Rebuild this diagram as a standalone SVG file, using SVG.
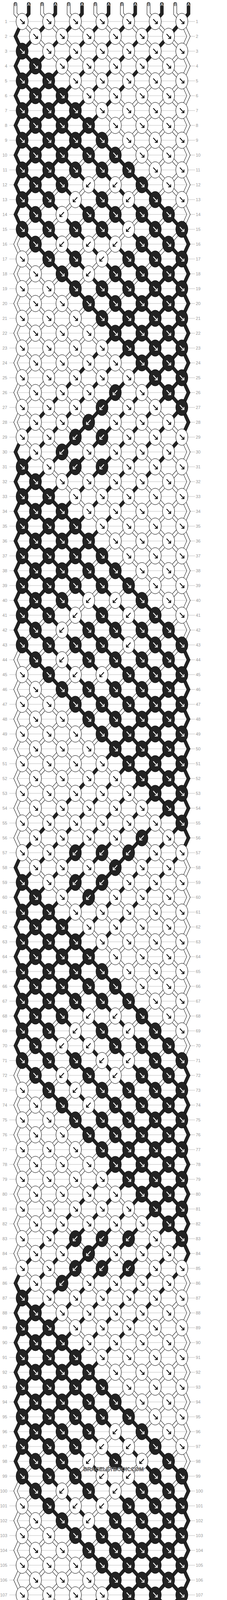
<svg xmlns="http://www.w3.org/2000/svg" width="582" height="7520" viewBox="0 0 582 7520">
<style>
.sd{stroke:#222;stroke-width:9}
.so{stroke:#000;stroke-width:9}
.si{stroke:#fff;stroke-width:7}
.td{fill:none;stroke:#222;stroke-width:9;stroke-linecap:round}
.to{fill:none;stroke:#000;stroke-width:9;stroke-linecap:round}
.ti{fill:none;stroke:#fff;stroke-width:7;stroke-linecap:round}
text{font-family:"Liberation Sans",Arial,sans-serif}
.l{font-size:11px;fill:#999;text-anchor:end}
.r{font-size:11px;fill:#999}
.sl{font-size:10.5px;text-anchor:middle}
.wm{font-size:14px;font-weight:bold;text-anchor:middle;fill:#aaa;stroke:#333;stroke-width:0.6}
</style>
<defs>
<g id="W"><ellipse rx="15.5" ry="21" fill="#fff" stroke="#000"/><path d="M-5-6 5 5M-1 5.5H5.5V-1" stroke="#000" stroke-width="2" fill="none"/></g>
<g id="D"><ellipse rx="15.5" ry="21" fill="#222" stroke="#000"/><path d="M-5-6 5 5M-1 5.5H5.5V-1" stroke="#fff" stroke-width="2" fill="none"/></g>
<g id="w"><ellipse rx="15.5" ry="21" fill="#fff" stroke="#000"/><path d="M5-6-5 5M1 5.5H-5.5V-1" stroke="#000" stroke-width="2" fill="none"/></g>
<g id="d"><ellipse rx="15.5" ry="21" fill="#222" stroke="#000"/><path d="M5-6-5 5M1 5.5H-5.5V-1" stroke="#fff" stroke-width="2" fill="none"/></g>
<path id="z" fill="none" d="M56.7,-2128l409.5,456 17.1,38 -17.1,38 -409.5,456 -17.1,38 17.1,38l409.5,456 17.1,38 -17.1,38 -409.5,456 -17.1,38 17.1,38l409.5,456 17.1,38 -17.1,38 -409.5,456 -17.1,38 17.1,38l409.5,456 17.1,38 -17.1,38 -409.5,456 -17.1,38 17.1,38l409.5,456 17.1,38 -17.1,38 -409.5,456 -17.1,38 17.1,38l409.5,456 17.1,38 -17.1,38 -409.5,456 -17.1,38 17.1,38l409.5,456 17.1,38 -17.1,38 -409.5,456 -17.1,38 17.1,38l409.5,456 17.1,38 -17.1,38 -409.5,456 -17.1,38 17.1,38l409.5,456 17.1,38 -17.1,38 -409.5,456 -17.1,38 17.1,38l409.5,456 17.1,38 -17.1,38 -409.5,456 -17.1,38 17.1,38"/>
<clipPath id="c"><rect x="0" y="55" width="582" height="7410"/></clipPath>
</defs>
<rect width="582" height="7520" fill="#fff"/>
<path id="rowlines" fill="none" stroke="#bbb" stroke-width="1" d="M24 55h476m-476 38h476m-476 38h476m-476 38h476m-476 38h476m-476 38h476m-476 38h476m-476 38h476m-476 38h476m-476 38h476m-476 38h476m-476 38h476m-476 38h476m-476 38h476m-476 38h476m-476 38h476m-476 38h476m-476 38h476m-476 38h476m-476 38h476m-476 38h476m-476 38h476m-476 38h476m-476 38h476m-476 38h476m-476 38h476m-476 38h476m-476 38h476m-476 38h476m-476 38h476m-476 38h476m-476 38h476m-476 38h476m-476 38h476m-476 38h476m-476 38h476m-476 38h476m-476 38h476m-476 38h476m-476 38h476m-476 38h476m-476 38h476m-476 38h476m-476 38h476m-476 38h476m-476 38h476m-476 38h476m-476 38h476m-476 38h476m-476 38h476m-476 38h476m-476 38h476m-476 38h476m-476 38h476m-476 38h476m-476 38h476m-476 38h476m-476 38h476m-476 38h476m-476 38h476m-476 38h476m-476 38h476m-476 38h476m-476 38h476m-476 38h476m-476 38h476m-476 38h476m-476 38h476m-476 38h476m-476 38h476m-476 38h476m-476 38h476m-476 38h476m-476 38h476m-476 38h476m-476 38h476m-476 38h476m-476 38h476m-476 38h476m-476 38h476m-476 38h476m-476 38h476m-476 38h476m-476 38h476m-476 38h476m-476 38h476m-476 38h476m-476 38h476m-476 38h476m-476 38h476m-476 38h476m-476 38h476m-476 38h476m-476 38h476m-476 38h476m-476 38h476m-476 38h476m-476 38h476m-476 38h476m-476 38h476m-476 38h476m-476 38h476m-476 38h476m-476 38h476m-476 38h476m-476 38h476m-476 38h476m-476 38h476m-476 38h476m-476 38h476m-476 38h476m-476 38h476m-476 38h476m-476 38h476m-476 38h476m-476 38h476m-476 38h476m-476 38h476m-476 38h476m-476 38h476m-476 38h476m-476 38h476m-476 38h476m-476 38h476m-476 38h476m-476 38h476m-476 38h476m-476 38h476m-476 38h476m-476 38h476m-476 38h476m-476 38h476m-476 38h476m-476 38h476m-476 38h476m-476 38h476m-476 38h476m-476 38h476m-476 38h476m-476 38h476m-476 38h476m-476 38h476m-476 38h476m-476 38h476m-476 38h476m-476 38h476m-476 38h476m-476 38h476m-476 38h476m-476 38h476m-476 38h476m-476 38h476m-476 38h476m-476 38h476m-476 38h476m-476 38h476m-476 38h476m-476 38h476m-476 38h476m-476 38h476m-476 38h476m-476 38h476m-476 38h476m-476 38h476m-476 38h476m-476 38h476m-476 38h476m-476 38h476m-476 38h476"/>
<g id="connectors">
<g id="strands" clip-path="url(#c)">
<use href="#z" class="sd" y="131"/><use href="#z" class="sd" y="207"/><use href="#z" class="sd" y="283"/><use href="#z" class="sd" y="359"/><use href="#z" class="sd" y="435"/><use href="#z" class="sd" y="511"/><use href="#z" class="sd" y="587"/>
<use href="#z" class="so" y="663"/><use href="#z" class="so" y="739"/><use href="#z" class="so" y="815"/><use href="#z" class="so" y="891"/><use href="#z" class="so" y="967"/><use href="#z" class="so" y="1043"/><use href="#z" class="so" y="1119"/>
<use href="#z" class="si" y="663"/><use href="#z" class="si" y="739"/><use href="#z" class="si" y="815"/><use href="#z" class="si" y="891"/><use href="#z" class="si" y="967"/><use href="#z" class="si" y="1043"/><use href="#z" class="si" y="1119"/>
</g>
<g id="tails">
<path class="td" d="M73.7,10V35L56.7,55M142,10V35L124.9,55M210.3,10V35L193.2,55M278.5,10V35L261.5,55M346.8,10V35L329.7,55M415,10V35L397.9,55M483.3,10V35L466.2,55"/>
<path class="to" d="M39.6,10V35L56.7,55M107.9,10V35L124.9,55M176.1,10V35L193.2,55M244.4,10V35L261.5,55M312.6,10V35L329.7,55M380.9,10V35L397.9,55M449.2,10V35L466.2,55"/>
<path class="ti" d="M39.6,10V35L56.7,55M107.9,10V35L124.9,55M176.1,10V35L193.2,55M244.4,10V35L261.5,55M312.6,10V35L329.7,55M380.9,10V35L397.9,55M449.2,10V35L466.2,55"/>
<path class="td" d="M90.8,7465L73.7,7484V7511M159,7465L142,7484V7511M227.3,7465L210.3,7484V7511M295.6,7465L278.5,7484V7511M363.8,7465L346.8,7484V7511M432.1,7465L415,7484V7511M466.2,7427L483.3,7465V7511"/>
<path class="to" d="M56.7,7427L39.6,7465V7511M90.8,7465L107.9,7484V7511M159,7465L176.1,7484V7511M227.3,7465L244.4,7484V7511M295.6,7465L312.6,7484V7511M363.8,7465L380.9,7484V7511M432.1,7465L449.2,7484V7511"/>
<path class="ti" d="M56.7,7427L39.6,7465V7511M90.8,7465L107.9,7484V7511M159,7465L176.1,7484V7511M227.3,7465L244.4,7484V7511M295.6,7465L312.6,7484V7511M363.8,7465L380.9,7484V7511M432.1,7465L449.2,7484V7511"/>
</g>
</g>
<g id="strandlabels" class="sl">
<text x="39.6" y="15">B</text><text x="73.7" y="15" fill="#fff">A</text><text x="107.9" y="15">B</text><text x="142" y="15" fill="#fff">A</text><text x="176.1" y="15">B</text><text x="210.3" y="15" fill="#fff">A</text><text x="244.4" y="15">B</text><text x="278.5" y="15" fill="#fff">A</text><text x="312.6" y="15">B</text><text x="346.8" y="15" fill="#fff">A</text><text x="380.9" y="15">B</text><text x="415" y="15" fill="#fff">A</text><text x="449.2" y="15">B</text><text x="483.3" y="15" fill="#fff">A</text>
<text x="39.6" y="7513">B</text><text x="73.7" y="7513" fill="#fff">A</text><text x="107.9" y="7513">B</text><text x="142" y="7513" fill="#fff">A</text><text x="176.1" y="7513">B</text><text x="210.3" y="7513" fill="#fff">A</text><text x="244.4" y="7513">B</text><text x="278.5" y="7513" fill="#fff">A</text><text x="312.6" y="7513">B</text><text x="346.8" y="7513" fill="#fff">A</text><text x="380.9" y="7513">B</text><text x="415" y="7513" fill="#fff">A</text><text x="449.2" y="7513">B</text><text x="483.3" y="7513" fill="#fff">A</text>
</g>
<g id="knots">
<g id="r1" transform="translate(0,55)"><text class="l" x="18.5" y="4">1</text><text class="r" x="502" y="4">1</text><use href="#W" x="56.7"/><use href="#W" x="124.9"/><use href="#W" x="193.2"/><use href="#W" x="261.5"/><use href="#W" x="329.7"/><use href="#W" x="397.9"/><use href="#W" x="466.2"/></g>
<g id="r2" transform="translate(0,93)"><text class="l" x="18.5" y="4">2</text><text class="r" x="502" y="4">2</text><use href="#W" x="90.8"/><use href="#W" x="159"/><use href="#W" x="227.3"/><use href="#W" x="295.6"/><use href="#W" x="363.8"/><use href="#W" x="432.1"/></g>
<g id="r3" transform="translate(0,131)"><text class="l" x="18.5" y="4">3</text><text class="r" x="502" y="4">3</text><use href="#D" x="56.7"/><use href="#W" x="124.9"/><use href="#W" x="193.2"/><use href="#W" x="261.5"/><use href="#W" x="329.7"/><use href="#W" x="397.9"/><use href="#W" x="466.2"/></g>
<g id="r4" transform="translate(0,169)"><text class="l" x="18.5" y="4">4</text><text class="r" x="502" y="4">4</text><use href="#D" x="90.8"/><use href="#W" x="159"/><use href="#W" x="227.3"/><use href="#W" x="295.6"/><use href="#W" x="363.8"/><use href="#W" x="432.1"/></g>
<g id="r5" transform="translate(0,207)"><text class="l" x="18.5" y="4">5</text><text class="r" x="502" y="4">5</text><use href="#D" x="56.7"/><use href="#D" x="124.9"/><use href="#W" x="193.2"/><use href="#W" x="261.5"/><use href="#W" x="329.7"/><use href="#W" x="397.9"/><use href="#W" x="466.2"/></g>
<g id="r6" transform="translate(0,245)"><text class="l" x="18.5" y="4">6</text><text class="r" x="502" y="4">6</text><use href="#D" x="90.8"/><use href="#D" x="159"/><use href="#W" x="227.3"/><use href="#W" x="295.6"/><use href="#W" x="363.8"/><use href="#W" x="432.1"/></g>
<g id="r7" transform="translate(0,283)"><text class="l" x="18.5" y="4">7</text><text class="r" x="502" y="4">7</text><use href="#D" x="56.7"/><use href="#D" x="124.9"/><use href="#D" x="193.2"/><use href="#W" x="261.5"/><use href="#W" x="329.7"/><use href="#W" x="397.9"/><use href="#W" x="466.2"/></g>
<g id="r8" transform="translate(0,321)"><text class="l" x="18.5" y="4">8</text><text class="r" x="502" y="4">8</text><use href="#D" x="90.8"/><use href="#D" x="159"/><use href="#D" x="227.3"/><use href="#W" x="295.6"/><use href="#W" x="363.8"/><use href="#W" x="432.1"/></g>
<g id="r9" transform="translate(0,359)"><text class="l" x="18.5" y="4">9</text><text class="r" x="502" y="4">9</text><use href="#D" x="56.7"/><use href="#D" x="124.9"/><use href="#D" x="193.2"/><use href="#D" x="261.5"/><use href="#W" x="329.7"/><use href="#W" x="397.9"/><use href="#W" x="466.2"/></g>
<g id="r10" transform="translate(0,397)"><text class="l" x="18.5" y="4">10</text><text class="r" x="502" y="4">10</text><use href="#D" x="90.8"/><use href="#D" x="159"/><use href="#D" x="227.3"/><use href="#D" x="295.6"/><use href="#W" x="363.8"/><use href="#W" x="432.1"/></g>
<g id="r11" transform="translate(0,435)"><text class="l" x="18.5" y="4">11</text><text class="r" x="502" y="4">11</text><use href="#D" x="56.7"/><use href="#D" x="124.9"/><use href="#D" x="193.2"/><use href="#D" x="261.5"/><use href="#D" x="329.7"/><use href="#W" x="397.9"/><use href="#W" x="466.2"/></g>
<g id="r12" transform="translate(0,473)"><text class="l" x="18.5" y="4">12</text><text class="r" x="502" y="4">12</text><use href="#D" x="90.8"/><use href="#D" x="159"/><use href="#w" x="227.3"/><use href="#w" x="295.6"/><use href="#D" x="363.8"/><use href="#W" x="432.1"/></g>
<g id="r13" transform="translate(0,511)"><text class="l" x="18.5" y="4">13</text><text class="r" x="502" y="4">13</text><use href="#D" x="56.7"/><use href="#D" x="124.9"/><use href="#w" x="193.2"/><use href="#D" x="261.5"/><use href="#w" x="329.7"/><use href="#D" x="397.9"/><use href="#W" x="466.2"/></g>
<g id="r14" transform="translate(0,549)"><text class="l" x="18.5" y="4">14</text><text class="r" x="502" y="4">14</text><use href="#D" x="90.8"/><use href="#w" x="159"/><use href="#D" x="227.3"/><use href="#D" x="295.6"/><use href="#D" x="363.8"/><use href="#D" x="432.1"/></g>
<g id="r15" transform="translate(0,587)"><text class="l" x="18.5" y="4">15</text><text class="r" x="502" y="4">15</text><use href="#D" x="56.7"/><use href="#D" x="124.9"/><use href="#D" x="193.2"/><use href="#D" x="261.5"/><use href="#w" x="329.7"/><use href="#D" x="397.9"/><use href="#D" x="466.2"/></g>
<g id="r16" transform="translate(0,625)"><text class="l" x="18.5" y="4">16</text><text class="r" x="502" y="4">16</text><use href="#D" x="90.8"/><use href="#w" x="159"/><use href="#w" x="227.3"/><use href="#w" x="295.6"/><use href="#D" x="363.8"/><use href="#D" x="432.1"/></g>
<g id="r17" transform="translate(0,663)"><text class="l" x="18.5" y="4">17</text><text class="r" x="502" y="4">17</text><use href="#W" x="56.7"/><use href="#D" x="124.9"/><use href="#D" x="193.2"/><use href="#w" x="261.5"/><use href="#D" x="329.7"/><use href="#D" x="397.9"/><use href="#D" x="466.2"/></g>
<g id="r18" transform="translate(0,701)"><text class="l" x="18.5" y="4">18</text><text class="r" x="502" y="4">18</text><use href="#W" x="90.8"/><use href="#D" x="159"/><use href="#w" x="227.3"/><use href="#D" x="295.6"/><use href="#D" x="363.8"/><use href="#D" x="432.1"/></g>
<g id="r19" transform="translate(0,739)"><text class="l" x="18.5" y="4">19</text><text class="r" x="502" y="4">19</text><use href="#W" x="56.7"/><use href="#W" x="124.9"/><use href="#D" x="193.2"/><use href="#D" x="261.5"/><use href="#D" x="329.7"/><use href="#D" x="397.9"/><use href="#D" x="466.2"/></g>
<g id="r20" transform="translate(0,777)"><text class="l" x="18.5" y="4">20</text><text class="r" x="502" y="4">20</text><use href="#W" x="90.8"/><use href="#W" x="159"/><use href="#D" x="227.3"/><use href="#D" x="295.6"/><use href="#D" x="363.8"/><use href="#D" x="432.1"/></g>
<g id="r21" transform="translate(0,815)"><text class="l" x="18.5" y="4">21</text><text class="r" x="502" y="4">21</text><use href="#W" x="56.7"/><use href="#W" x="124.9"/><use href="#W" x="193.2"/><use href="#D" x="261.5"/><use href="#D" x="329.7"/><use href="#D" x="397.9"/><use href="#D" x="466.2"/></g>
<g id="r22" transform="translate(0,853)"><text class="l" x="18.5" y="4">22</text><text class="r" x="502" y="4">22</text><use href="#W" x="90.8"/><use href="#W" x="159"/><use href="#W" x="227.3"/><use href="#D" x="295.6"/><use href="#D" x="363.8"/><use href="#D" x="432.1"/></g>
<g id="r23" transform="translate(0,891)"><text class="l" x="18.5" y="4">23</text><text class="r" x="502" y="4">23</text><use href="#W" x="56.7"/><use href="#W" x="124.9"/><use href="#W" x="193.2"/><use href="#W" x="261.5"/><use href="#D" x="329.7"/><use href="#D" x="397.9"/><use href="#D" x="466.2"/></g>
<g id="r24" transform="translate(0,929)"><text class="l" x="18.5" y="4">24</text><text class="r" x="502" y="4">24</text><use href="#W" x="90.8"/><use href="#W" x="159"/><use href="#W" x="227.3"/><use href="#W" x="295.6"/><use href="#D" x="363.8"/><use href="#D" x="432.1"/></g>
<g id="r25" transform="translate(0,967)"><text class="l" x="18.5" y="4">25</text><text class="r" x="502" y="4">25</text><use href="#W" x="56.7"/><use href="#W" x="124.9"/><use href="#W" x="193.2"/><use href="#W" x="261.5"/><use href="#W" x="329.7"/><use href="#D" x="397.9"/><use href="#D" x="466.2"/></g>
<g id="r26" transform="translate(0,1005)"><text class="l" x="18.5" y="4">26</text><text class="r" x="502" y="4">26</text><use href="#W" x="90.8"/><use href="#W" x="159"/><use href="#W" x="227.3"/><use href="#d" x="295.6"/><use href="#W" x="363.8"/><use href="#D" x="432.1"/></g>
<g id="r27" transform="translate(0,1043)"><text class="l" x="18.5" y="4">27</text><text class="r" x="502" y="4">27</text><use href="#W" x="56.7"/><use href="#W" x="124.9"/><use href="#W" x="193.2"/><use href="#d" x="261.5"/><use href="#W" x="329.7"/><use href="#W" x="397.9"/><use href="#D" x="466.2"/></g>
<g id="r28" transform="translate(0,1081)"><text class="l" x="18.5" y="4">28</text><text class="r" x="502" y="4">28</text><use href="#W" x="90.8"/><use href="#W" x="159"/><use href="#d" x="227.3"/><use href="#W" x="295.6"/><use href="#W" x="363.8"/><use href="#W" x="432.1"/></g>
<g id="r29" transform="translate(0,1119)"><text class="l" x="18.5" y="4">29</text><text class="r" x="502" y="4">29</text><use href="#W" x="56.7"/><use href="#W" x="124.9"/><use href="#d" x="193.2"/><use href="#d" x="261.5"/><use href="#W" x="329.7"/><use href="#W" x="397.9"/><use href="#W" x="466.2"/></g>
<g id="r30" transform="translate(0,1157)"><text class="l" x="18.5" y="4">30</text><text class="r" x="502" y="4">30</text><use href="#W" x="90.8"/><use href="#d" x="159"/><use href="#W" x="227.3"/><use href="#W" x="295.6"/><use href="#W" x="363.8"/><use href="#W" x="432.1"/></g>
<g id="r31" transform="translate(0,1195)"><text class="l" x="18.5" y="4">31</text><text class="r" x="502" y="4">31</text><use href="#D" x="56.7"/><use href="#W" x="124.9"/><use href="#d" x="193.2"/><use href="#d" x="261.5"/><use href="#W" x="329.7"/><use href="#W" x="397.9"/><use href="#W" x="466.2"/></g>
<g id="r32" transform="translate(0,1233)"><text class="l" x="18.5" y="4">32</text><text class="r" x="502" y="4">32</text><use href="#D" x="90.8"/><use href="#W" x="159"/><use href="#W" x="227.3"/><use href="#W" x="295.6"/><use href="#W" x="363.8"/><use href="#W" x="432.1"/></g>
<g id="r33" transform="translate(0,1271)"><text class="l" x="18.5" y="4">33</text><text class="r" x="502" y="4">33</text><use href="#D" x="56.7"/><use href="#D" x="124.9"/><use href="#W" x="193.2"/><use href="#W" x="261.5"/><use href="#W" x="329.7"/><use href="#W" x="397.9"/><use href="#W" x="466.2"/></g>
<g id="r34" transform="translate(0,1309)"><text class="l" x="18.5" y="4">34</text><text class="r" x="502" y="4">34</text><use href="#D" x="90.8"/><use href="#D" x="159"/><use href="#W" x="227.3"/><use href="#W" x="295.6"/><use href="#W" x="363.8"/><use href="#W" x="432.1"/></g>
<g id="r35" transform="translate(0,1347)"><text class="l" x="18.5" y="4">35</text><text class="r" x="502" y="4">35</text><use href="#D" x="56.7"/><use href="#D" x="124.9"/><use href="#D" x="193.2"/><use href="#W" x="261.5"/><use href="#W" x="329.7"/><use href="#W" x="397.9"/><use href="#W" x="466.2"/></g>
<g id="r36" transform="translate(0,1385)"><text class="l" x="18.5" y="4">36</text><text class="r" x="502" y="4">36</text><use href="#D" x="90.8"/><use href="#D" x="159"/><use href="#D" x="227.3"/><use href="#W" x="295.6"/><use href="#W" x="363.8"/><use href="#W" x="432.1"/></g>
<g id="r37" transform="translate(0,1423)"><text class="l" x="18.5" y="4">37</text><text class="r" x="502" y="4">37</text><use href="#D" x="56.7"/><use href="#D" x="124.9"/><use href="#D" x="193.2"/><use href="#D" x="261.5"/><use href="#W" x="329.7"/><use href="#W" x="397.9"/><use href="#W" x="466.2"/></g>
<g id="r38" transform="translate(0,1461)"><text class="l" x="18.5" y="4">38</text><text class="r" x="502" y="4">38</text><use href="#D" x="90.8"/><use href="#D" x="159"/><use href="#D" x="227.3"/><use href="#D" x="295.6"/><use href="#W" x="363.8"/><use href="#W" x="432.1"/></g>
<g id="r39" transform="translate(0,1499)"><text class="l" x="18.5" y="4">39</text><text class="r" x="502" y="4">39</text><use href="#D" x="56.7"/><use href="#D" x="124.9"/><use href="#D" x="193.2"/><use href="#D" x="261.5"/><use href="#D" x="329.7"/><use href="#W" x="397.9"/><use href="#W" x="466.2"/></g>
<g id="r40" transform="translate(0,1537)"><text class="l" x="18.5" y="4">40</text><text class="r" x="502" y="4">40</text><use href="#D" x="90.8"/><use href="#D" x="159"/><use href="#w" x="227.3"/><use href="#w" x="295.6"/><use href="#D" x="363.8"/><use href="#W" x="432.1"/></g>
<g id="r41" transform="translate(0,1575)"><text class="l" x="18.5" y="4">41</text><text class="r" x="502" y="4">41</text><use href="#D" x="56.7"/><use href="#D" x="124.9"/><use href="#w" x="193.2"/><use href="#D" x="261.5"/><use href="#w" x="329.7"/><use href="#D" x="397.9"/><use href="#W" x="466.2"/></g>
<g id="r42" transform="translate(0,1613)"><text class="l" x="18.5" y="4">42</text><text class="r" x="502" y="4">42</text><use href="#D" x="90.8"/><use href="#w" x="159"/><use href="#D" x="227.3"/><use href="#D" x="295.6"/><use href="#D" x="363.8"/><use href="#D" x="432.1"/></g>
<g id="r43" transform="translate(0,1651)"><text class="l" x="18.5" y="4">43</text><text class="r" x="502" y="4">43</text><use href="#D" x="56.7"/><use href="#D" x="124.9"/><use href="#D" x="193.2"/><use href="#D" x="261.5"/><use href="#w" x="329.7"/><use href="#D" x="397.9"/><use href="#D" x="466.2"/></g>
<g id="r44" transform="translate(0,1689)"><text class="l" x="18.5" y="4">44</text><text class="r" x="502" y="4">44</text><use href="#D" x="90.8"/><use href="#w" x="159"/><use href="#D" x="227.3"/><use href="#D" x="295.6"/><use href="#D" x="363.8"/><use href="#D" x="432.1"/></g>
<g id="r45" transform="translate(0,1727)"><text class="l" x="18.5" y="4">45</text><text class="r" x="502" y="4">45</text><use href="#W" x="56.7"/><use href="#D" x="124.9"/><use href="#w" x="193.2"/><use href="#w" x="261.5"/><use href="#D" x="329.7"/><use href="#D" x="397.9"/><use href="#D" x="466.2"/></g>
<g id="r46" transform="translate(0,1765)"><text class="l" x="18.5" y="4">46</text><text class="r" x="502" y="4">46</text><use href="#W" x="90.8"/><use href="#D" x="159"/><use href="#D" x="227.3"/><use href="#D" x="295.6"/><use href="#D" x="363.8"/><use href="#D" x="432.1"/></g>
<g id="r47" transform="translate(0,1803)"><text class="l" x="18.5" y="4">47</text><text class="r" x="502" y="4">47</text><use href="#W" x="56.7"/><use href="#W" x="124.9"/><use href="#D" x="193.2"/><use href="#D" x="261.5"/><use href="#D" x="329.7"/><use href="#D" x="397.9"/><use href="#D" x="466.2"/></g>
<g id="r48" transform="translate(0,1841)"><text class="l" x="18.5" y="4">48</text><text class="r" x="502" y="4">48</text><use href="#W" x="90.8"/><use href="#W" x="159"/><use href="#D" x="227.3"/><use href="#D" x="295.6"/><use href="#D" x="363.8"/><use href="#D" x="432.1"/></g>
<g id="r49" transform="translate(0,1879)"><text class="l" x="18.5" y="4">49</text><text class="r" x="502" y="4">49</text><use href="#W" x="56.7"/><use href="#W" x="124.9"/><use href="#W" x="193.2"/><use href="#D" x="261.5"/><use href="#D" x="329.7"/><use href="#D" x="397.9"/><use href="#D" x="466.2"/></g>
<g id="r50" transform="translate(0,1917)"><text class="l" x="18.5" y="4">50</text><text class="r" x="502" y="4">50</text><use href="#W" x="90.8"/><use href="#W" x="159"/><use href="#W" x="227.3"/><use href="#D" x="295.6"/><use href="#D" x="363.8"/><use href="#D" x="432.1"/></g>
<g id="r51" transform="translate(0,1955)"><text class="l" x="18.5" y="4">51</text><text class="r" x="502" y="4">51</text><use href="#W" x="56.7"/><use href="#W" x="124.9"/><use href="#W" x="193.2"/><use href="#W" x="261.5"/><use href="#D" x="329.7"/><use href="#D" x="397.9"/><use href="#D" x="466.2"/></g>
<g id="r52" transform="translate(0,1993)"><text class="l" x="18.5" y="4">52</text><text class="r" x="502" y="4">52</text><use href="#W" x="90.8"/><use href="#W" x="159"/><use href="#W" x="227.3"/><use href="#W" x="295.6"/><use href="#D" x="363.8"/><use href="#D" x="432.1"/></g>
<g id="r53" transform="translate(0,2031)"><text class="l" x="18.5" y="4">53</text><text class="r" x="502" y="4">53</text><use href="#W" x="56.7"/><use href="#W" x="124.9"/><use href="#W" x="193.2"/><use href="#W" x="261.5"/><use href="#W" x="329.7"/><use href="#D" x="397.9"/><use href="#D" x="466.2"/></g>
<g id="r54" transform="translate(0,2069)"><text class="l" x="18.5" y="4">54</text><text class="r" x="502" y="4">54</text><use href="#W" x="90.8"/><use href="#W" x="159"/><use href="#W" x="227.3"/><use href="#W" x="295.6"/><use href="#W" x="363.8"/><use href="#D" x="432.1"/></g>
<g id="r55" transform="translate(0,2107)"><text class="l" x="18.5" y="4">55</text><text class="r" x="502" y="4">55</text><use href="#W" x="56.7"/><use href="#W" x="124.9"/><use href="#W" x="193.2"/><use href="#W" x="261.5"/><use href="#W" x="329.7"/><use href="#W" x="397.9"/><use href="#D" x="466.2"/></g>
<g id="r56" transform="translate(0,2145)"><text class="l" x="18.5" y="4">56</text><text class="r" x="502" y="4">56</text><use href="#W" x="90.8"/><use href="#W" x="159"/><use href="#W" x="227.3"/><use href="#W" x="295.6"/><use href="#d" x="363.8"/><use href="#W" x="432.1"/></g>
<g id="r57" transform="translate(0,2183)"><text class="l" x="18.5" y="4">57</text><text class="r" x="502" y="4">57</text><use href="#W" x="56.7"/><use href="#W" x="124.9"/><use href="#d" x="193.2"/><use href="#d" x="261.5"/><use href="#d" x="329.7"/><use href="#W" x="397.9"/><use href="#W" x="466.2"/></g>
<g id="r58" transform="translate(0,2221)"><text class="l" x="18.5" y="4">58</text><text class="r" x="502" y="4">58</text><use href="#W" x="90.8"/><use href="#W" x="159"/><use href="#W" x="227.3"/><use href="#d" x="295.6"/><use href="#W" x="363.8"/><use href="#W" x="432.1"/></g>
<g id="r59" transform="translate(0,2259)"><text class="l" x="18.5" y="4">59</text><text class="r" x="502" y="4">59</text><use href="#D" x="56.7"/><use href="#W" x="124.9"/><use href="#d" x="193.2"/><use href="#d" x="261.5"/><use href="#W" x="329.7"/><use href="#W" x="397.9"/><use href="#W" x="466.2"/></g>
<g id="r60" transform="translate(0,2297)"><text class="l" x="18.5" y="4">60</text><text class="r" x="502" y="4">60</text><use href="#D" x="90.8"/><use href="#W" x="159"/><use href="#d" x="227.3"/><use href="#W" x="295.6"/><use href="#W" x="363.8"/><use href="#W" x="432.1"/></g>
<g id="r61" transform="translate(0,2335)"><text class="l" x="18.5" y="4">61</text><text class="r" x="502" y="4">61</text><use href="#D" x="56.7"/><use href="#D" x="124.9"/><use href="#W" x="193.2"/><use href="#W" x="261.5"/><use href="#W" x="329.7"/><use href="#W" x="397.9"/><use href="#W" x="466.2"/></g>
<g id="r62" transform="translate(0,2373)"><text class="l" x="18.5" y="4">62</text><text class="r" x="502" y="4">62</text><use href="#D" x="90.8"/><use href="#D" x="159"/><use href="#W" x="227.3"/><use href="#W" x="295.6"/><use href="#W" x="363.8"/><use href="#W" x="432.1"/></g>
<g id="r63" transform="translate(0,2411)"><text class="l" x="18.5" y="4">63</text><text class="r" x="502" y="4">63</text><use href="#D" x="56.7"/><use href="#D" x="124.9"/><use href="#D" x="193.2"/><use href="#W" x="261.5"/><use href="#W" x="329.7"/><use href="#W" x="397.9"/><use href="#W" x="466.2"/></g>
<g id="r64" transform="translate(0,2449)"><text class="l" x="18.5" y="4">64</text><text class="r" x="502" y="4">64</text><use href="#D" x="90.8"/><use href="#D" x="159"/><use href="#D" x="227.3"/><use href="#W" x="295.6"/><use href="#W" x="363.8"/><use href="#W" x="432.1"/></g>
<g id="r65" transform="translate(0,2487)"><text class="l" x="18.5" y="4">65</text><text class="r" x="502" y="4">65</text><use href="#D" x="56.7"/><use href="#D" x="124.9"/><use href="#D" x="193.2"/><use href="#D" x="261.5"/><use href="#W" x="329.7"/><use href="#W" x="397.9"/><use href="#W" x="466.2"/></g>
<g id="r66" transform="translate(0,2525)"><text class="l" x="18.5" y="4">66</text><text class="r" x="502" y="4">66</text><use href="#D" x="90.8"/><use href="#D" x="159"/><use href="#D" x="227.3"/><use href="#D" x="295.6"/><use href="#W" x="363.8"/><use href="#W" x="432.1"/></g>
<g id="r67" transform="translate(0,2563)"><text class="l" x="18.5" y="4">67</text><text class="r" x="502" y="4">67</text><use href="#D" x="56.7"/><use href="#D" x="124.9"/><use href="#D" x="193.2"/><use href="#D" x="261.5"/><use href="#D" x="329.7"/><use href="#W" x="397.9"/><use href="#W" x="466.2"/></g>
<g id="r68" transform="translate(0,2601)"><text class="l" x="18.5" y="4">68</text><text class="r" x="502" y="4">68</text><use href="#D" x="90.8"/><use href="#D" x="159"/><use href="#w" x="227.3"/><use href="#w" x="295.6"/><use href="#D" x="363.8"/><use href="#W" x="432.1"/></g>
<g id="r69" transform="translate(0,2639)"><text class="l" x="18.5" y="4">69</text><text class="r" x="502" y="4">69</text><use href="#D" x="56.7"/><use href="#D" x="124.9"/><use href="#w" x="193.2"/><use href="#D" x="261.5"/><use href="#w" x="329.7"/><use href="#D" x="397.9"/><use href="#W" x="466.2"/></g>
<g id="r70" transform="translate(0,2677)"><text class="l" x="18.5" y="4">70</text><text class="r" x="502" y="4">70</text><use href="#D" x="90.8"/><use href="#w" x="159"/><use href="#w" x="227.3"/><use href="#D" x="295.6"/><use href="#D" x="363.8"/><use href="#D" x="432.1"/></g>
<g id="r71" transform="translate(0,2715)"><text class="l" x="18.5" y="4">71</text><text class="r" x="502" y="4">71</text><use href="#D" x="56.7"/><use href="#D" x="124.9"/><use href="#D" x="193.2"/><use href="#w" x="261.5"/><use href="#w" x="329.7"/><use href="#D" x="397.9"/><use href="#D" x="466.2"/></g>
<g id="r72" transform="translate(0,2753)"><text class="l" x="18.5" y="4">72</text><text class="r" x="502" y="4">72</text><use href="#D" x="90.8"/><use href="#w" x="159"/><use href="#D" x="227.3"/><use href="#w" x="295.6"/><use href="#D" x="363.8"/><use href="#D" x="432.1"/></g>
<g id="r73" transform="translate(0,2791)"><text class="l" x="18.5" y="4">73</text><text class="r" x="502" y="4">73</text><use href="#W" x="56.7"/><use href="#D" x="124.9"/><use href="#w" x="193.2"/><use href="#D" x="261.5"/><use href="#D" x="329.7"/><use href="#D" x="397.9"/><use href="#D" x="466.2"/></g>
<g id="r74" transform="translate(0,2829)"><text class="l" x="18.5" y="4">74</text><text class="r" x="502" y="4">74</text><use href="#W" x="90.8"/><use href="#D" x="159"/><use href="#w" x="227.3"/><use href="#D" x="295.6"/><use href="#D" x="363.8"/><use href="#D" x="432.1"/></g>
<g id="r75" transform="translate(0,2867)"><text class="l" x="18.5" y="4">75</text><text class="r" x="502" y="4">75</text><use href="#W" x="56.7"/><use href="#W" x="124.9"/><use href="#D" x="193.2"/><use href="#D" x="261.5"/><use href="#D" x="329.7"/><use href="#D" x="397.9"/><use href="#D" x="466.2"/></g>
<g id="r76" transform="translate(0,2905)"><text class="l" x="18.5" y="4">76</text><text class="r" x="502" y="4">76</text><use href="#W" x="90.8"/><use href="#W" x="159"/><use href="#D" x="227.3"/><use href="#D" x="295.6"/><use href="#D" x="363.8"/><use href="#D" x="432.1"/></g>
<g id="r77" transform="translate(0,2943)"><text class="l" x="18.5" y="4">77</text><text class="r" x="502" y="4">77</text><use href="#W" x="56.7"/><use href="#W" x="124.9"/><use href="#W" x="193.2"/><use href="#D" x="261.5"/><use href="#D" x="329.7"/><use href="#D" x="397.9"/><use href="#D" x="466.2"/></g>
<g id="r78" transform="translate(0,2981)"><text class="l" x="18.5" y="4">78</text><text class="r" x="502" y="4">78</text><use href="#W" x="90.8"/><use href="#W" x="159"/><use href="#W" x="227.3"/><use href="#D" x="295.6"/><use href="#D" x="363.8"/><use href="#D" x="432.1"/></g>
<g id="r79" transform="translate(0,3019)"><text class="l" x="18.5" y="4">79</text><text class="r" x="502" y="4">79</text><use href="#W" x="56.7"/><use href="#W" x="124.9"/><use href="#W" x="193.2"/><use href="#W" x="261.5"/><use href="#D" x="329.7"/><use href="#D" x="397.9"/><use href="#D" x="466.2"/></g>
<g id="r80" transform="translate(0,3057)"><text class="l" x="18.5" y="4">80</text><text class="r" x="502" y="4">80</text><use href="#W" x="90.8"/><use href="#W" x="159"/><use href="#W" x="227.3"/><use href="#W" x="295.6"/><use href="#D" x="363.8"/><use href="#D" x="432.1"/></g>
<g id="r81" transform="translate(0,3095)"><text class="l" x="18.5" y="4">81</text><text class="r" x="502" y="4">81</text><use href="#W" x="56.7"/><use href="#W" x="124.9"/><use href="#W" x="193.2"/><use href="#W" x="261.5"/><use href="#W" x="329.7"/><use href="#D" x="397.9"/><use href="#D" x="466.2"/></g>
<g id="r82" transform="translate(0,3133)"><text class="l" x="18.5" y="4">82</text><text class="r" x="502" y="4">82</text><use href="#W" x="90.8"/><use href="#W" x="159"/><use href="#W" x="227.3"/><use href="#W" x="295.6"/><use href="#W" x="363.8"/><use href="#D" x="432.1"/></g>
<g id="r83" transform="translate(0,3171)"><text class="l" x="18.5" y="4">83</text><text class="r" x="502" y="4">83</text><use href="#W" x="56.7"/><use href="#W" x="124.9"/><use href="#d" x="193.2"/><use href="#d" x="261.5"/><use href="#d" x="329.7"/><use href="#W" x="397.9"/><use href="#D" x="466.2"/></g>
<g id="r84" transform="translate(0,3209)"><text class="l" x="18.5" y="4">84</text><text class="r" x="502" y="4">84</text><use href="#W" x="90.8"/><use href="#W" x="159"/><use href="#d" x="227.3"/><use href="#W" x="295.6"/><use href="#W" x="363.8"/><use href="#W" x="432.1"/></g>
<g id="r85" transform="translate(0,3247)"><text class="l" x="18.5" y="4">85</text><text class="r" x="502" y="4">85</text><use href="#W" x="56.7"/><use href="#W" x="124.9"/><use href="#d" x="193.2"/><use href="#d" x="261.5"/><use href="#d" x="329.7"/><use href="#W" x="397.9"/><use href="#W" x="466.2"/></g>
<g id="r86" transform="translate(0,3285)"><text class="l" x="18.5" y="4">86</text><text class="r" x="502" y="4">86</text><use href="#W" x="90.8"/><use href="#d" x="159"/><use href="#W" x="227.3"/><use href="#W" x="295.6"/><use href="#W" x="363.8"/><use href="#W" x="432.1"/></g>
<g id="r87" transform="translate(0,3323)"><text class="l" x="18.5" y="4">87</text><text class="r" x="502" y="4">87</text><use href="#D" x="56.7"/><use href="#W" x="124.9"/><use href="#W" x="193.2"/><use href="#W" x="261.5"/><use href="#W" x="329.7"/><use href="#W" x="397.9"/><use href="#W" x="466.2"/></g>
<g id="r88" transform="translate(0,3361)"><text class="l" x="18.5" y="4">88</text><text class="r" x="502" y="4">88</text><use href="#D" x="90.8"/><use href="#W" x="159"/><use href="#W" x="227.3"/><use href="#W" x="295.6"/><use href="#W" x="363.8"/><use href="#W" x="432.1"/></g>
<g id="r89" transform="translate(0,3399)"><text class="l" x="18.5" y="4">89</text><text class="r" x="502" y="4">89</text><use href="#D" x="56.7"/><use href="#D" x="124.9"/><use href="#W" x="193.2"/><use href="#W" x="261.5"/><use href="#W" x="329.7"/><use href="#W" x="397.9"/><use href="#W" x="466.2"/></g>
<g id="r90" transform="translate(0,3437)"><text class="l" x="18.5" y="4">90</text><text class="r" x="502" y="4">90</text><use href="#D" x="90.8"/><use href="#D" x="159"/><use href="#W" x="227.3"/><use href="#W" x="295.6"/><use href="#W" x="363.8"/><use href="#W" x="432.1"/></g>
<g id="r91" transform="translate(0,3475)"><text class="l" x="18.5" y="4">91</text><text class="r" x="502" y="4">91</text><use href="#D" x="56.7"/><use href="#D" x="124.9"/><use href="#D" x="193.2"/><use href="#W" x="261.5"/><use href="#W" x="329.7"/><use href="#W" x="397.9"/><use href="#W" x="466.2"/></g>
<g id="r92" transform="translate(0,3513)"><text class="l" x="18.5" y="4">92</text><text class="r" x="502" y="4">92</text><use href="#D" x="90.8"/><use href="#D" x="159"/><use href="#D" x="227.3"/><use href="#W" x="295.6"/><use href="#W" x="363.8"/><use href="#W" x="432.1"/></g>
<g id="r93" transform="translate(0,3551)"><text class="l" x="18.5" y="4">93</text><text class="r" x="502" y="4">93</text><use href="#D" x="56.7"/><use href="#D" x="124.9"/><use href="#D" x="193.2"/><use href="#D" x="261.5"/><use href="#W" x="329.7"/><use href="#W" x="397.9"/><use href="#W" x="466.2"/></g>
<g id="r94" transform="translate(0,3589)"><text class="l" x="18.5" y="4">94</text><text class="r" x="502" y="4">94</text><use href="#D" x="90.8"/><use href="#D" x="159"/><use href="#D" x="227.3"/><use href="#D" x="295.6"/><use href="#W" x="363.8"/><use href="#W" x="432.1"/></g>
<g id="r95" transform="translate(0,3627)"><text class="l" x="18.5" y="4">95</text><text class="r" x="502" y="4">95</text><use href="#D" x="56.7"/><use href="#D" x="124.9"/><use href="#D" x="193.2"/><use href="#D" x="261.5"/><use href="#D" x="329.7"/><use href="#W" x="397.9"/><use href="#W" x="466.2"/></g>
<g id="r96" transform="translate(0,3665)"><text class="l" x="18.5" y="4">96</text><text class="r" x="502" y="4">96</text><use href="#D" x="90.8"/><use href="#D" x="159"/><use href="#D" x="227.3"/><use href="#w" x="295.6"/><use href="#D" x="363.8"/><use href="#W" x="432.1"/></g>
<g id="r97" transform="translate(0,3703)"><text class="l" x="18.5" y="4">97</text><text class="r" x="502" y="4">97</text><use href="#D" x="56.7"/><use href="#D" x="124.9"/><use href="#D" x="193.2"/><use href="#w" x="261.5"/><use href="#w" x="329.7"/><use href="#D" x="397.9"/><use href="#W" x="466.2"/></g>
<g id="r98" transform="translate(0,3741)"><text class="l" x="18.5" y="4">98</text><text class="r" x="502" y="4">98</text><use href="#D" x="90.8"/><use href="#D" x="159"/><use href="#w" x="227.3"/><use href="#D" x="295.6"/><use href="#w" x="363.8"/><use href="#D" x="432.1"/></g>
<g id="r99" transform="translate(0,3779)"><text class="l" x="18.5" y="4">99</text><text class="r" x="502" y="4">99</text><use href="#D" x="56.7"/><use href="#D" x="124.9"/><use href="#D" x="193.2"/><use href="#w" x="261.5"/><use href="#w" x="329.7"/><use href="#D" x="397.9"/><use href="#D" x="466.2"/></g>
<g id="r100" transform="translate(0,3817)"><text class="l" x="18.5" y="4">100</text><text class="r" x="502" y="4">100</text><use href="#D" x="90.8"/><use href="#w" x="159"/><use href="#D" x="227.3"/><use href="#w" x="295.6"/><use href="#D" x="363.8"/><use href="#D" x="432.1"/></g>
<g id="r101" transform="translate(0,3855)"><text class="l" x="18.5" y="4">101</text><text class="r" x="502" y="4">101</text><use href="#W" x="56.7"/><use href="#D" x="124.9"/><use href="#w" x="193.2"/><use href="#w" x="261.5"/><use href="#D" x="329.7"/><use href="#D" x="397.9"/><use href="#D" x="466.2"/></g>
<g id="r102" transform="translate(0,3893)"><text class="l" x="18.5" y="4">102</text><text class="r" x="502" y="4">102</text><use href="#W" x="90.8"/><use href="#D" x="159"/><use href="#w" x="227.3"/><use href="#D" x="295.6"/><use href="#D" x="363.8"/><use href="#D" x="432.1"/></g>
<g id="r103" transform="translate(0,3931)"><text class="l" x="18.5" y="4">103</text><text class="r" x="502" y="4">103</text><use href="#W" x="56.7"/><use href="#W" x="124.9"/><use href="#D" x="193.2"/><use href="#D" x="261.5"/><use href="#D" x="329.7"/><use href="#D" x="397.9"/><use href="#D" x="466.2"/></g>
<g id="r104" transform="translate(0,3969)"><text class="l" x="18.5" y="4">104</text><text class="r" x="502" y="4">104</text><use href="#W" x="90.8"/><use href="#W" x="159"/><use href="#D" x="227.3"/><use href="#D" x="295.6"/><use href="#D" x="363.8"/><use href="#D" x="432.1"/></g>
<g id="r105" transform="translate(0,4007)"><text class="l" x="18.5" y="4">105</text><text class="r" x="502" y="4">105</text><use href="#W" x="56.7"/><use href="#W" x="124.9"/><use href="#W" x="193.2"/><use href="#D" x="261.5"/><use href="#D" x="329.7"/><use href="#D" x="397.9"/><use href="#D" x="466.2"/></g>
<g id="r106" transform="translate(0,4045)"><text class="l" x="18.5" y="4">106</text><text class="r" x="502" y="4">106</text><use href="#W" x="90.8"/><use href="#W" x="159"/><use href="#W" x="227.3"/><use href="#D" x="295.6"/><use href="#D" x="363.8"/><use href="#D" x="432.1"/></g>
<g id="r107" transform="translate(0,4083)"><text class="l" x="18.5" y="4">107</text><text class="r" x="502" y="4">107</text><use href="#W" x="56.7"/><use href="#W" x="124.9"/><use href="#W" x="193.2"/><use href="#W" x="261.5"/><use href="#D" x="329.7"/><use href="#D" x="397.9"/><use href="#D" x="466.2"/></g>
<g id="r108" transform="translate(0,4121)"><text class="l" x="18.5" y="4">108</text><text class="r" x="502" y="4">108</text><use href="#W" x="90.8"/><use href="#W" x="159"/><use href="#W" x="227.3"/><use href="#W" x="295.6"/><use href="#D" x="363.8"/><use href="#D" x="432.1"/></g>
<g id="r109" transform="translate(0,4159)"><text class="l" x="18.5" y="4">109</text><text class="r" x="502" y="4">109</text><use href="#W" x="56.7"/><use href="#W" x="124.9"/><use href="#W" x="193.2"/><use href="#W" x="261.5"/><use href="#W" x="329.7"/><use href="#D" x="397.9"/><use href="#D" x="466.2"/></g>
<g id="r110" transform="translate(0,4197)"><text class="l" x="18.5" y="4">110</text><text class="r" x="502" y="4">110</text><use href="#W" x="90.8"/><use href="#W" x="159"/><use href="#W" x="227.3"/><use href="#d" x="295.6"/><use href="#W" x="363.8"/><use href="#D" x="432.1"/></g>
<g id="r111" transform="translate(0,4235)"><text class="l" x="18.5" y="4">111</text><text class="r" x="502" y="4">111</text><use href="#W" x="56.7"/><use href="#W" x="124.9"/><use href="#W" x="193.2"/><use href="#d" x="261.5"/><use href="#W" x="329.7"/><use href="#W" x="397.9"/><use href="#D" x="466.2"/></g>
<g id="r112" transform="translate(0,4273)"><text class="l" x="18.5" y="4">112</text><text class="r" x="502" y="4">112</text><use href="#W" x="90.8"/><use href="#W" x="159"/><use href="#d" x="227.3"/><use href="#W" x="295.6"/><use href="#W" x="363.8"/><use href="#W" x="432.1"/></g>
<g id="r113" transform="translate(0,4311)"><text class="l" x="18.5" y="4">113</text><text class="r" x="502" y="4">113</text><use href="#W" x="56.7"/><use href="#W" x="124.9"/><use href="#d" x="193.2"/><use href="#d" x="261.5"/><use href="#W" x="329.7"/><use href="#W" x="397.9"/><use href="#W" x="466.2"/></g>
<g id="r114" transform="translate(0,4349)"><text class="l" x="18.5" y="4">114</text><text class="r" x="502" y="4">114</text><use href="#W" x="90.8"/><use href="#d" x="159"/><use href="#W" x="227.3"/><use href="#W" x="295.6"/><use href="#W" x="363.8"/><use href="#W" x="432.1"/></g>
<g id="r115" transform="translate(0,4387)"><text class="l" x="18.5" y="4">115</text><text class="r" x="502" y="4">115</text><use href="#D" x="56.7"/><use href="#W" x="124.9"/><use href="#W" x="193.2"/><use href="#d" x="261.5"/><use href="#W" x="329.7"/><use href="#W" x="397.9"/><use href="#W" x="466.2"/></g>
<g id="r116" transform="translate(0,4425)"><text class="l" x="18.5" y="4">116</text><text class="r" x="502" y="4">116</text><use href="#D" x="90.8"/><use href="#W" x="159"/><use href="#d" x="227.3"/><use href="#W" x="295.6"/><use href="#W" x="363.8"/><use href="#W" x="432.1"/></g>
<g id="r117" transform="translate(0,4463)"><text class="l" x="18.5" y="4">117</text><text class="r" x="502" y="4">117</text><use href="#D" x="56.7"/><use href="#D" x="124.9"/><use href="#W" x="193.2"/><use href="#W" x="261.5"/><use href="#W" x="329.7"/><use href="#W" x="397.9"/><use href="#W" x="466.2"/></g>
<g id="r118" transform="translate(0,4501)"><text class="l" x="18.5" y="4">118</text><text class="r" x="502" y="4">118</text><use href="#D" x="90.8"/><use href="#D" x="159"/><use href="#W" x="227.3"/><use href="#W" x="295.6"/><use href="#W" x="363.8"/><use href="#W" x="432.1"/></g>
<g id="r119" transform="translate(0,4539)"><text class="l" x="18.5" y="4">119</text><text class="r" x="502" y="4">119</text><use href="#D" x="56.7"/><use href="#D" x="124.9"/><use href="#D" x="193.2"/><use href="#W" x="261.5"/><use href="#W" x="329.7"/><use href="#W" x="397.9"/><use href="#W" x="466.2"/></g>
<g id="r120" transform="translate(0,4577)"><text class="l" x="18.5" y="4">120</text><text class="r" x="502" y="4">120</text><use href="#D" x="90.8"/><use href="#D" x="159"/><use href="#D" x="227.3"/><use href="#W" x="295.6"/><use href="#W" x="363.8"/><use href="#W" x="432.1"/></g>
<g id="r121" transform="translate(0,4615)"><text class="l" x="18.5" y="4">121</text><text class="r" x="502" y="4">121</text><use href="#D" x="56.7"/><use href="#D" x="124.9"/><use href="#D" x="193.2"/><use href="#D" x="261.5"/><use href="#W" x="329.7"/><use href="#W" x="397.9"/><use href="#W" x="466.2"/></g>
<g id="r122" transform="translate(0,4653)"><text class="l" x="18.5" y="4">122</text><text class="r" x="502" y="4">122</text><use href="#D" x="90.8"/><use href="#D" x="159"/><use href="#D" x="227.3"/><use href="#D" x="295.6"/><use href="#W" x="363.8"/><use href="#W" x="432.1"/></g>
<g id="r123" transform="translate(0,4691)"><text class="l" x="18.5" y="4">123</text><text class="r" x="502" y="4">123</text><use href="#D" x="56.7"/><use href="#D" x="124.9"/><use href="#D" x="193.2"/><use href="#D" x="261.5"/><use href="#D" x="329.7"/><use href="#W" x="397.9"/><use href="#W" x="466.2"/></g>
<g id="r124" transform="translate(0,4729)"><text class="l" x="18.5" y="4">124</text><text class="r" x="502" y="4">124</text><use href="#D" x="90.8"/><use href="#D" x="159"/><use href="#D" x="227.3"/><use href="#D" x="295.6"/><use href="#D" x="363.8"/><use href="#W" x="432.1"/></g>
<g id="r125" transform="translate(0,4767)"><text class="l" x="18.5" y="4">125</text><text class="r" x="502" y="4">125</text><use href="#D" x="56.7"/><use href="#D" x="124.9"/><use href="#D" x="193.2"/><use href="#D" x="261.5"/><use href="#w" x="329.7"/><use href="#D" x="397.9"/><use href="#W" x="466.2"/></g>
<g id="r126" transform="translate(0,4805)"><text class="l" x="18.5" y="4">126</text><text class="r" x="502" y="4">126</text><use href="#D" x="90.8"/><use href="#D" x="159"/><use href="#D" x="227.3"/><use href="#D" x="295.6"/><use href="#D" x="363.8"/><use href="#D" x="432.1"/></g>
<g id="r127" transform="translate(0,4843)"><text class="l" x="18.5" y="4">127</text><text class="r" x="502" y="4">127</text><use href="#D" x="56.7"/><use href="#D" x="124.9"/><use href="#D" x="193.2"/><use href="#w" x="261.5"/><use href="#D" x="329.7"/><use href="#D" x="397.9"/><use href="#D" x="466.2"/></g>
<g id="r128" transform="translate(0,4881)"><text class="l" x="18.5" y="4">128</text><text class="r" x="502" y="4">128</text><use href="#D" x="90.8"/><use href="#D" x="159"/><use href="#w" x="227.3"/><use href="#D" x="295.6"/><use href="#D" x="363.8"/><use href="#D" x="432.1"/></g>
<g id="r129" transform="translate(0,4919)"><text class="l" x="18.5" y="4">129</text><text class="r" x="502" y="4">129</text><use href="#W" x="56.7"/><use href="#D" x="124.9"/><use href="#w" x="193.2"/><use href="#D" x="261.5"/><use href="#D" x="329.7"/><use href="#D" x="397.9"/><use href="#D" x="466.2"/></g>
<g id="r130" transform="translate(0,4957)"><text class="l" x="18.5" y="4">130</text><text class="r" x="502" y="4">130</text><use href="#W" x="90.8"/><use href="#D" x="159"/><use href="#D" x="227.3"/><use href="#D" x="295.6"/><use href="#D" x="363.8"/><use href="#D" x="432.1"/></g>
<g id="r131" transform="translate(0,4995)"><text class="l" x="18.5" y="4">131</text><text class="r" x="502" y="4">131</text><use href="#W" x="56.7"/><use href="#W" x="124.9"/><use href="#D" x="193.2"/><use href="#D" x="261.5"/><use href="#D" x="329.7"/><use href="#D" x="397.9"/><use href="#D" x="466.2"/></g>
<g id="r132" transform="translate(0,5033)"><text class="l" x="18.5" y="4">132</text><text class="r" x="502" y="4">132</text><use href="#W" x="90.8"/><use href="#W" x="159"/><use href="#D" x="227.3"/><use href="#D" x="295.6"/><use href="#D" x="363.8"/><use href="#D" x="432.1"/></g>
<g id="r133" transform="translate(0,5071)"><text class="l" x="18.5" y="4">133</text><text class="r" x="502" y="4">133</text><use href="#W" x="56.7"/><use href="#W" x="124.9"/><use href="#W" x="193.2"/><use href="#D" x="261.5"/><use href="#D" x="329.7"/><use href="#D" x="397.9"/><use href="#D" x="466.2"/></g>
<g id="r134" transform="translate(0,5109)"><text class="l" x="18.5" y="4">134</text><text class="r" x="502" y="4">134</text><use href="#W" x="90.8"/><use href="#W" x="159"/><use href="#W" x="227.3"/><use href="#D" x="295.6"/><use href="#D" x="363.8"/><use href="#D" x="432.1"/></g>
<g id="r135" transform="translate(0,5147)"><text class="l" x="18.5" y="4">135</text><text class="r" x="502" y="4">135</text><use href="#W" x="56.7"/><use href="#W" x="124.9"/><use href="#W" x="193.2"/><use href="#W" x="261.5"/><use href="#D" x="329.7"/><use href="#D" x="397.9"/><use href="#D" x="466.2"/></g>
<g id="r136" transform="translate(0,5185)"><text class="l" x="18.5" y="4">136</text><text class="r" x="502" y="4">136</text><use href="#W" x="90.8"/><use href="#W" x="159"/><use href="#W" x="227.3"/><use href="#W" x="295.6"/><use href="#D" x="363.8"/><use href="#D" x="432.1"/></g>
<g id="r137" transform="translate(0,5223)"><text class="l" x="18.5" y="4">137</text><text class="r" x="502" y="4">137</text><use href="#W" x="56.7"/><use href="#W" x="124.9"/><use href="#W" x="193.2"/><use href="#W" x="261.5"/><use href="#W" x="329.7"/><use href="#D" x="397.9"/><use href="#D" x="466.2"/></g>
<g id="r138" transform="translate(0,5261)"><text class="l" x="18.5" y="4">138</text><text class="r" x="502" y="4">138</text><use href="#W" x="90.8"/><use href="#W" x="159"/><use href="#W" x="227.3"/><use href="#W" x="295.6"/><use href="#W" x="363.8"/><use href="#D" x="432.1"/></g>
<g id="r139" transform="translate(0,5299)"><text class="l" x="18.5" y="4">139</text><text class="r" x="502" y="4">139</text><use href="#W" x="56.7"/><use href="#W" x="124.9"/><use href="#W" x="193.2"/><use href="#W" x="261.5"/><use href="#d" x="329.7"/><use href="#W" x="397.9"/><use href="#D" x="466.2"/></g>
<g id="r140" transform="translate(0,5337)"><text class="l" x="18.5" y="4">140</text><text class="r" x="502" y="4">140</text><use href="#W" x="90.8"/><use href="#W" x="159"/><use href="#W" x="227.3"/><use href="#W" x="295.6"/><use href="#W" x="363.8"/><use href="#W" x="432.1"/></g>
<g id="r141" transform="translate(0,5375)"><text class="l" x="18.5" y="4">141</text><text class="r" x="502" y="4">141</text><use href="#W" x="56.7"/><use href="#d" x="124.9"/><use href="#W" x="193.2"/><use href="#d" x="261.5"/><use href="#W" x="329.7"/><use href="#W" x="397.9"/><use href="#W" x="466.2"/></g>
<g id="r142" transform="translate(0,5413)"><text class="l" x="18.5" y="4">142</text><text class="r" x="502" y="4">142</text><use href="#W" x="90.8"/><use href="#d" x="159"/><use href="#d" x="227.3"/><use href="#W" x="295.6"/><use href="#W" x="363.8"/><use href="#W" x="432.1"/></g>
<g id="r143" transform="translate(0,5451)"><text class="l" x="18.5" y="4">143</text><text class="r" x="502" y="4">143</text><use href="#D" x="56.7"/><use href="#W" x="124.9"/><use href="#W" x="193.2"/><use href="#W" x="261.5"/><use href="#W" x="329.7"/><use href="#W" x="397.9"/><use href="#W" x="466.2"/></g>
<g id="r144" transform="translate(0,5489)"><text class="l" x="18.5" y="4">144</text><text class="r" x="502" y="4">144</text><use href="#D" x="90.8"/><use href="#W" x="159"/><use href="#W" x="227.3"/><use href="#W" x="295.6"/><use href="#W" x="363.8"/><use href="#W" x="432.1"/></g>
<g id="r145" transform="translate(0,5527)"><text class="l" x="18.5" y="4">145</text><text class="r" x="502" y="4">145</text><use href="#D" x="56.7"/><use href="#D" x="124.9"/><use href="#W" x="193.2"/><use href="#W" x="261.5"/><use href="#W" x="329.7"/><use href="#W" x="397.9"/><use href="#W" x="466.2"/></g>
<g id="r146" transform="translate(0,5565)"><text class="l" x="18.5" y="4">146</text><text class="r" x="502" y="4">146</text><use href="#D" x="90.8"/><use href="#D" x="159"/><use href="#W" x="227.3"/><use href="#W" x="295.6"/><use href="#W" x="363.8"/><use href="#W" x="432.1"/></g>
<g id="r147" transform="translate(0,5603)"><text class="l" x="18.5" y="4">147</text><text class="r" x="502" y="4">147</text><use href="#D" x="56.7"/><use href="#D" x="124.9"/><use href="#D" x="193.2"/><use href="#W" x="261.5"/><use href="#W" x="329.7"/><use href="#W" x="397.9"/><use href="#W" x="466.2"/></g>
<g id="r148" transform="translate(0,5641)"><text class="l" x="18.5" y="4">148</text><text class="r" x="502" y="4">148</text><use href="#D" x="90.8"/><use href="#D" x="159"/><use href="#D" x="227.3"/><use href="#W" x="295.6"/><use href="#W" x="363.8"/><use href="#W" x="432.1"/></g>
<g id="r149" transform="translate(0,5679)"><text class="l" x="18.5" y="4">149</text><text class="r" x="502" y="4">149</text><use href="#D" x="56.7"/><use href="#D" x="124.9"/><use href="#D" x="193.2"/><use href="#D" x="261.5"/><use href="#W" x="329.7"/><use href="#W" x="397.9"/><use href="#W" x="466.2"/></g>
<g id="r150" transform="translate(0,5717)"><text class="l" x="18.5" y="4">150</text><text class="r" x="502" y="4">150</text><use href="#D" x="90.8"/><use href="#D" x="159"/><use href="#D" x="227.3"/><use href="#D" x="295.6"/><use href="#W" x="363.8"/><use href="#W" x="432.1"/></g>
<g id="r151" transform="translate(0,5755)"><text class="l" x="18.5" y="4">151</text><text class="r" x="502" y="4">151</text><use href="#D" x="56.7"/><use href="#D" x="124.9"/><use href="#D" x="193.2"/><use href="#D" x="261.5"/><use href="#D" x="329.7"/><use href="#W" x="397.9"/><use href="#W" x="466.2"/></g>
<g id="r152" transform="translate(0,5793)"><text class="l" x="18.5" y="4">152</text><text class="r" x="502" y="4">152</text><use href="#D" x="90.8"/><use href="#D" x="159"/><use href="#D" x="227.3"/><use href="#w" x="295.6"/><use href="#D" x="363.8"/><use href="#W" x="432.1"/></g>
<g id="r153" transform="translate(0,5831)"><text class="l" x="18.5" y="4">153</text><text class="r" x="502" y="4">153</text><use href="#D" x="56.7"/><use href="#D" x="124.9"/><use href="#D" x="193.2"/><use href="#w" x="261.5"/><use href="#D" x="329.7"/><use href="#D" x="397.9"/><use href="#W" x="466.2"/></g>
<g id="r154" transform="translate(0,5869)"><text class="l" x="18.5" y="4">154</text><text class="r" x="502" y="4">154</text><use href="#D" x="90.8"/><use href="#D" x="159"/><use href="#w" x="227.3"/><use href="#D" x="295.6"/><use href="#D" x="363.8"/><use href="#D" x="432.1"/></g>
<g id="r155" transform="translate(0,5907)"><text class="l" x="18.5" y="4">155</text><text class="r" x="502" y="4">155</text><use href="#D" x="56.7"/><use href="#D" x="124.9"/><use href="#w" x="193.2"/><use href="#D" x="261.5"/><use href="#D" x="329.7"/><use href="#D" x="397.9"/><use href="#D" x="466.2"/></g>
<g id="r156" transform="translate(0,5945)"><text class="l" x="18.5" y="4">156</text><text class="r" x="502" y="4">156</text><use href="#D" x="90.8"/><use href="#w" x="159"/><use href="#w" x="227.3"/><use href="#w" x="295.6"/><use href="#D" x="363.8"/><use href="#D" x="432.1"/></g>
<g id="r157" transform="translate(0,5983)"><text class="l" x="18.5" y="4">157</text><text class="r" x="502" y="4">157</text><use href="#W" x="56.7"/><use href="#D" x="124.9"/><use href="#D" x="193.2"/><use href="#D" x="261.5"/><use href="#D" x="329.7"/><use href="#D" x="397.9"/><use href="#D" x="466.2"/></g>
<g id="r158" transform="translate(0,6021)"><text class="l" x="18.5" y="4">158</text><text class="r" x="502" y="4">158</text><use href="#W" x="90.8"/><use href="#D" x="159"/><use href="#w" x="227.3"/><use href="#D" x="295.6"/><use href="#D" x="363.8"/><use href="#D" x="432.1"/></g>
<g id="r159" transform="translate(0,6059)"><text class="l" x="18.5" y="4">159</text><text class="r" x="502" y="4">159</text><use href="#W" x="56.7"/><use href="#W" x="124.9"/><use href="#D" x="193.2"/><use href="#D" x="261.5"/><use href="#D" x="329.7"/><use href="#D" x="397.9"/><use href="#D" x="466.2"/></g>
<g id="r160" transform="translate(0,6097)"><text class="l" x="18.5" y="4">160</text><text class="r" x="502" y="4">160</text><use href="#W" x="90.8"/><use href="#W" x="159"/><use href="#D" x="227.3"/><use href="#D" x="295.6"/><use href="#D" x="363.8"/><use href="#D" x="432.1"/></g>
<g id="r161" transform="translate(0,6135)"><text class="l" x="18.5" y="4">161</text><text class="r" x="502" y="4">161</text><use href="#W" x="56.7"/><use href="#W" x="124.9"/><use href="#W" x="193.2"/><use href="#D" x="261.5"/><use href="#D" x="329.7"/><use href="#D" x="397.9"/><use href="#D" x="466.2"/></g>
<g id="r162" transform="translate(0,6173)"><text class="l" x="18.5" y="4">162</text><text class="r" x="502" y="4">162</text><use href="#W" x="90.8"/><use href="#W" x="159"/><use href="#W" x="227.3"/><use href="#D" x="295.6"/><use href="#D" x="363.8"/><use href="#D" x="432.1"/></g>
<g id="r163" transform="translate(0,6211)"><text class="l" x="18.5" y="4">163</text><text class="r" x="502" y="4">163</text><use href="#W" x="56.7"/><use href="#W" x="124.9"/><use href="#W" x="193.2"/><use href="#W" x="261.5"/><use href="#D" x="329.7"/><use href="#D" x="397.9"/><use href="#D" x="466.2"/></g>
<g id="r164" transform="translate(0,6249)"><text class="l" x="18.5" y="4">164</text><text class="r" x="502" y="4">164</text><use href="#W" x="90.8"/><use href="#W" x="159"/><use href="#W" x="227.3"/><use href="#W" x="295.6"/><use href="#D" x="363.8"/><use href="#D" x="432.1"/></g>
<g id="r165" transform="translate(0,6287)"><text class="l" x="18.5" y="4">165</text><text class="r" x="502" y="4">165</text><use href="#W" x="56.7"/><use href="#W" x="124.9"/><use href="#W" x="193.2"/><use href="#W" x="261.5"/><use href="#W" x="329.7"/><use href="#D" x="397.9"/><use href="#D" x="466.2"/></g>
<g id="r166" transform="translate(0,6325)"><text class="l" x="18.5" y="4">166</text><text class="r" x="502" y="4">166</text><use href="#W" x="90.8"/><use href="#W" x="159"/><use href="#W" x="227.3"/><use href="#W" x="295.6"/><use href="#W" x="363.8"/><use href="#D" x="432.1"/></g>
<g id="r167" transform="translate(0,6363)"><text class="l" x="18.5" y="4">167</text><text class="r" x="502" y="4">167</text><use href="#W" x="56.7"/><use href="#W" x="124.9"/><use href="#W" x="193.2"/><use href="#W" x="261.5"/><use href="#d" x="329.7"/><use href="#W" x="397.9"/><use href="#D" x="466.2"/></g>
<g id="r168" transform="translate(0,6401)"><text class="l" x="18.5" y="4">168</text><text class="r" x="502" y="4">168</text><use href="#W" x="90.8"/><use href="#W" x="159"/><use href="#W" x="227.3"/><use href="#d" x="295.6"/><use href="#W" x="363.8"/><use href="#W" x="432.1"/></g>
<g id="r169" transform="translate(0,6439)"><text class="l" x="18.5" y="4">169</text><text class="r" x="502" y="4">169</text><use href="#W" x="56.7"/><use href="#W" x="124.9"/><use href="#W" x="193.2"/><use href="#d" x="261.5"/><use href="#W" x="329.7"/><use href="#W" x="397.9"/><use href="#W" x="466.2"/></g>
<g id="r170" transform="translate(0,6477)"><text class="l" x="18.5" y="4">170</text><text class="r" x="502" y="4">170</text><use href="#W" x="90.8"/><use href="#W" x="159"/><use href="#d" x="227.3"/><use href="#W" x="295.6"/><use href="#W" x="363.8"/><use href="#W" x="432.1"/></g>
<g id="r171" transform="translate(0,6515)"><text class="l" x="18.5" y="4">171</text><text class="r" x="502" y="4">171</text><use href="#D" x="56.7"/><use href="#W" x="124.9"/><use href="#d" x="193.2"/><use href="#W" x="261.5"/><use href="#W" x="329.7"/><use href="#W" x="397.9"/><use href="#W" x="466.2"/></g>
<g id="r172" transform="translate(0,6553)"><text class="l" x="18.5" y="4">172</text><text class="r" x="502" y="4">172</text><use href="#D" x="90.8"/><use href="#W" x="159"/><use href="#W" x="227.3"/><use href="#W" x="295.6"/><use href="#W" x="363.8"/><use href="#W" x="432.1"/></g>
<g id="r173" transform="translate(0,6591)"><text class="l" x="18.5" y="4">173</text><text class="r" x="502" y="4">173</text><use href="#D" x="56.7"/><use href="#D" x="124.9"/><use href="#W" x="193.2"/><use href="#W" x="261.5"/><use href="#W" x="329.7"/><use href="#W" x="397.9"/><use href="#W" x="466.2"/></g>
<g id="r174" transform="translate(0,6629)"><text class="l" x="18.5" y="4">174</text><text class="r" x="502" y="4">174</text><use href="#D" x="90.8"/><use href="#D" x="159"/><use href="#W" x="227.3"/><use href="#W" x="295.6"/><use href="#W" x="363.8"/><use href="#W" x="432.1"/></g>
<g id="r175" transform="translate(0,6667)"><text class="l" x="18.5" y="4">175</text><text class="r" x="502" y="4">175</text><use href="#D" x="56.7"/><use href="#D" x="124.9"/><use href="#D" x="193.2"/><use href="#W" x="261.5"/><use href="#W" x="329.7"/><use href="#W" x="397.9"/><use href="#W" x="466.2"/></g>
<g id="r176" transform="translate(0,6705)"><text class="l" x="18.5" y="4">176</text><text class="r" x="502" y="4">176</text><use href="#D" x="90.8"/><use href="#D" x="159"/><use href="#D" x="227.3"/><use href="#W" x="295.6"/><use href="#W" x="363.8"/><use href="#W" x="432.1"/></g>
<g id="r177" transform="translate(0,6743)"><text class="l" x="18.5" y="4">177</text><text class="r" x="502" y="4">177</text><use href="#D" x="56.7"/><use href="#D" x="124.9"/><use href="#D" x="193.2"/><use href="#D" x="261.5"/><use href="#W" x="329.7"/><use href="#W" x="397.9"/><use href="#W" x="466.2"/></g>
<g id="r178" transform="translate(0,6781)"><text class="l" x="18.5" y="4">178</text><text class="r" x="502" y="4">178</text><use href="#D" x="90.8"/><use href="#D" x="159"/><use href="#D" x="227.3"/><use href="#D" x="295.6"/><use href="#W" x="363.8"/><use href="#W" x="432.1"/></g>
<g id="r179" transform="translate(0,6819)"><text class="l" x="18.5" y="4">179</text><text class="r" x="502" y="4">179</text><use href="#D" x="56.7"/><use href="#D" x="124.9"/><use href="#D" x="193.2"/><use href="#D" x="261.5"/><use href="#D" x="329.7"/><use href="#W" x="397.9"/><use href="#W" x="466.2"/></g>
<g id="r180" transform="translate(0,6857)"><text class="l" x="18.5" y="4">180</text><text class="r" x="502" y="4">180</text><use href="#D" x="90.8"/><use href="#D" x="159"/><use href="#w" x="227.3"/><use href="#D" x="295.6"/><use href="#D" x="363.8"/><use href="#W" x="432.1"/></g>
<g id="r181" transform="translate(0,6895)"><text class="l" x="18.5" y="4">181</text><text class="r" x="502" y="4">181</text><use href="#D" x="56.7"/><use href="#D" x="124.9"/><use href="#w" x="193.2"/><use href="#w" x="261.5"/><use href="#D" x="329.7"/><use href="#D" x="397.9"/><use href="#W" x="466.2"/></g>
<g id="r182" transform="translate(0,6933)"><text class="l" x="18.5" y="4">182</text><text class="r" x="502" y="4">182</text><use href="#D" x="90.8"/><use href="#w" x="159"/><use href="#D" x="227.3"/><use href="#D" x="295.6"/><use href="#D" x="363.8"/><use href="#D" x="432.1"/></g>
<g id="r183" transform="translate(0,6971)"><text class="l" x="18.5" y="4">183</text><text class="r" x="502" y="4">183</text><use href="#D" x="56.7"/><use href="#w" x="124.9"/><use href="#D" x="193.2"/><use href="#w" x="261.5"/><use href="#w" x="329.7"/><use href="#D" x="397.9"/><use href="#D" x="466.2"/></g>
<g id="r184" transform="translate(0,7009)"><text class="l" x="18.5" y="4">184</text><text class="r" x="502" y="4">184</text><use href="#D" x="90.8"/><use href="#D" x="159"/><use href="#w" x="227.3"/><use href="#D" x="295.6"/><use href="#D" x="363.8"/><use href="#D" x="432.1"/></g>
<g id="r185" transform="translate(0,7047)"><text class="l" x="18.5" y="4">185</text><text class="r" x="502" y="4">185</text><use href="#W" x="56.7"/><use href="#D" x="124.9"/><use href="#w" x="193.2"/><use href="#D" x="261.5"/><use href="#w" x="329.7"/><use href="#D" x="397.9"/><use href="#D" x="466.2"/></g>
<g id="r186" transform="translate(0,7085)"><text class="l" x="18.5" y="4">186</text><text class="r" x="502" y="4">186</text><use href="#W" x="90.8"/><use href="#D" x="159"/><use href="#D" x="227.3"/><use href="#w" x="295.6"/><use href="#D" x="363.8"/><use href="#D" x="432.1"/></g>
<g id="r187" transform="translate(0,7123)"><text class="l" x="18.5" y="4">187</text><text class="r" x="502" y="4">187</text><use href="#W" x="56.7"/><use href="#W" x="124.9"/><use href="#D" x="193.2"/><use href="#w" x="261.5"/><use href="#D" x="329.7"/><use href="#D" x="397.9"/><use href="#D" x="466.2"/></g>
<g id="r188" transform="translate(0,7161)"><text class="l" x="18.5" y="4">188</text><text class="r" x="502" y="4">188</text><use href="#W" x="90.8"/><use href="#W" x="159"/><use href="#D" x="227.3"/><use href="#D" x="295.6"/><use href="#D" x="363.8"/><use href="#D" x="432.1"/></g>
<g id="r189" transform="translate(0,7199)"><text class="l" x="18.5" y="4">189</text><text class="r" x="502" y="4">189</text><use href="#W" x="56.7"/><use href="#W" x="124.9"/><use href="#W" x="193.2"/><use href="#D" x="261.5"/><use href="#D" x="329.7"/><use href="#D" x="397.9"/><use href="#D" x="466.2"/></g>
<g id="r190" transform="translate(0,7237)"><text class="l" x="18.5" y="4">190</text><text class="r" x="502" y="4">190</text><use href="#W" x="90.8"/><use href="#W" x="159"/><use href="#W" x="227.3"/><use href="#D" x="295.6"/><use href="#D" x="363.8"/><use href="#D" x="432.1"/></g>
<g id="r191" transform="translate(0,7275)"><text class="l" x="18.5" y="4">191</text><text class="r" x="502" y="4">191</text><use href="#W" x="56.7"/><use href="#W" x="124.9"/><use href="#W" x="193.2"/><use href="#W" x="261.5"/><use href="#D" x="329.7"/><use href="#D" x="397.9"/><use href="#D" x="466.2"/></g>
<g id="r192" transform="translate(0,7313)"><text class="l" x="18.5" y="4">192</text><text class="r" x="502" y="4">192</text><use href="#W" x="90.8"/><use href="#W" x="159"/><use href="#W" x="227.3"/><use href="#W" x="295.6"/><use href="#D" x="363.8"/><use href="#D" x="432.1"/></g>
<g id="r193" transform="translate(0,7351)"><text class="l" x="18.5" y="4">193</text><text class="r" x="502" y="4">193</text><use href="#W" x="56.7"/><use href="#W" x="124.9"/><use href="#W" x="193.2"/><use href="#W" x="261.5"/><use href="#W" x="329.7"/><use href="#D" x="397.9"/><use href="#D" x="466.2"/></g>
<g id="r194" transform="translate(0,7389)"><text class="l" x="18.5" y="4">194</text><text class="r" x="502" y="4">194</text><use href="#W" x="90.8"/><use href="#W" x="159"/><use href="#W" x="227.3"/><use href="#W" x="295.6"/><use href="#W" x="363.8"/><use href="#D" x="432.1"/></g>
<g id="r195" transform="translate(0,7427)"><text class="l" x="18.5" y="4">195</text><text class="r" x="502" y="4">195</text><use href="#W" x="56.7"/><use href="#W" x="124.9"/><use href="#W" x="193.2"/><use href="#W" x="261.5"/><use href="#W" x="329.7"/><use href="#W" x="397.9"/><use href="#D" x="466.2"/></g>
<g id="r196" transform="translate(0,7465)"><text class="l" x="18.5" y="4">196</text><text class="r" x="502" y="4">196</text><use href="#W" x="90.8"/><use href="#W" x="159"/><use href="#W" x="227.3"/><use href="#W" x="295.6"/><use href="#W" x="363.8"/><use href="#W" x="432.1"/></g>
</g>
<text id="watermark" class="wm" x="291" y="3766">BRACELETBOOK.COM</text>
</svg>
